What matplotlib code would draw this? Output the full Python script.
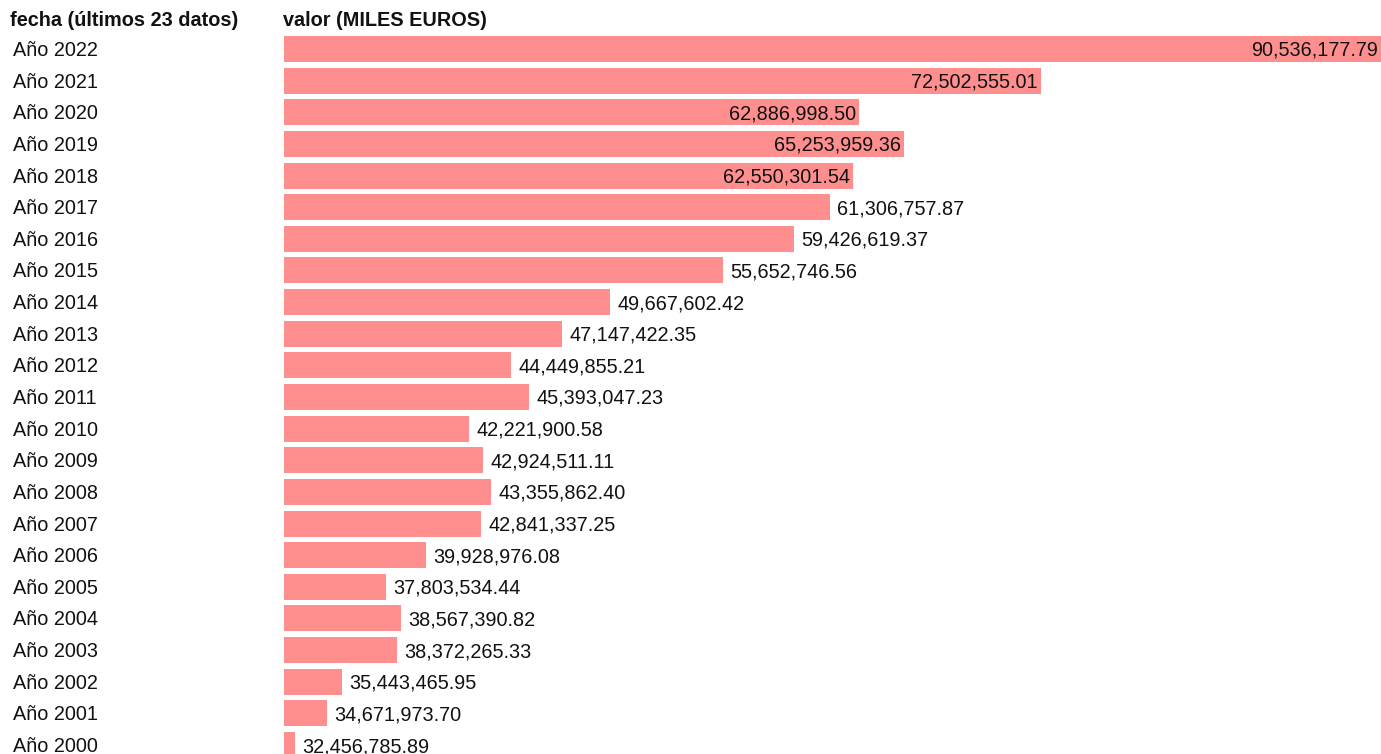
import numpy as np
import matplotlib
matplotlib.use('Agg')
import matplotlib.pyplot as plt
import matplotlib.transforms as mtransforms

plt.rcParams['font.family'] = ['Liberation Sans', 'DejaVu Sans']

# data (miles de euros), newest first
years = ['Año 2022', 'Año 2021', 'Año 2020', 'Año 2019', 'Año 2018', 'Año 2017',
         'Año 2016', 'Año 2015', 'Año 2014', 'Año 2013', 'Año 2012', 'Año 2011',
         'Año 2010', 'Año 2009', 'Año 2008', 'Año 2007', 'Año 2006', 'Año 2005',
         'Año 2004', 'Año 2003', 'Año 2002', 'Año 2001', 'Año 2000']
values = [90536177.79, 72502555.01, 62886998.50, 65253959.36, 62550301.54,
          61306757.87, 59426619.37, 55652746.56, 49667602.42, 47147422.35,
          44449855.21, 45393047.23, 42221900.58, 42924511.11, 43355862.40,
          42841337.25, 39928976.08, 37803534.44, 38567390.82, 38372265.33,
          35443465.95, 34671973.70, 32456785.89]

W, H = 1381, 754
fig = plt.figure(figsize=(W / 100, H / 100), dpi=100)

row = 31.64
top_px = 49 - row / 2
bot_px = 745 + row / 2
ax = fig.add_axes([284 / W, (H - bot_px) / H, 1097 / W, (bot_px - top_px) / H])

vals = np.array(values)
x0 = vals.min() * 0.998
x1 = vals.max()
span = x1 - x0
# tiny bars get a minimum visible length
shown = np.maximum(vals, x0 + 0.01 * span)

ypos = np.arange(len(years))
ax.barh(ypos, shown - x0, left=x0, height=0.82, color='#ff8f8f')
ax.set_xlim(x0, x1)
ax.set_ylim(len(years) - 0.5, -0.5)
ax.axis('off')

fs = 14.3
dy = -1.5  # nudge text down a bit
for y, v, s in zip(ypos, vals, shown):
    txt = f'{v:,.2f}'
    if (s - x0) > 0.5 * span:
        ax.annotate(txt, (s, y), xytext=(-3, dy), textcoords='offset pixels',
                    ha='right', va='center', fontsize=fs, color='#111111')
    else:
        ax.annotate(txt, (s, y), xytext=(7.5, dy), textcoords='offset pixels',
                    ha='left', va='center', fontsize=fs, color='#111111')

trans = mtransforms.blended_transform_factory(fig.transFigure, ax.transData)
trans = trans + mtransforms.ScaledTranslation(0, dy / 100, fig.dpi_scale_trans)
for y, lab in zip(ypos, years):
    fig.text(13 / W, y, lab, transform=trans, ha='left', va='center',
             fontsize=fs, color='#111111')

fig.text(10 / W, 1 - 21 / H, 'fecha (últimos 23 datos)', ha='left', va='center',
         fontsize=fs, fontweight='bold', color='#111111')
fig.text(283 / W, 1 - 21 / H, 'valor (MILES EUROS)', ha='left', va='center',
         fontsize=fs, fontweight='bold', color='#111111')

fig.savefig('out.png', dpi=100)
